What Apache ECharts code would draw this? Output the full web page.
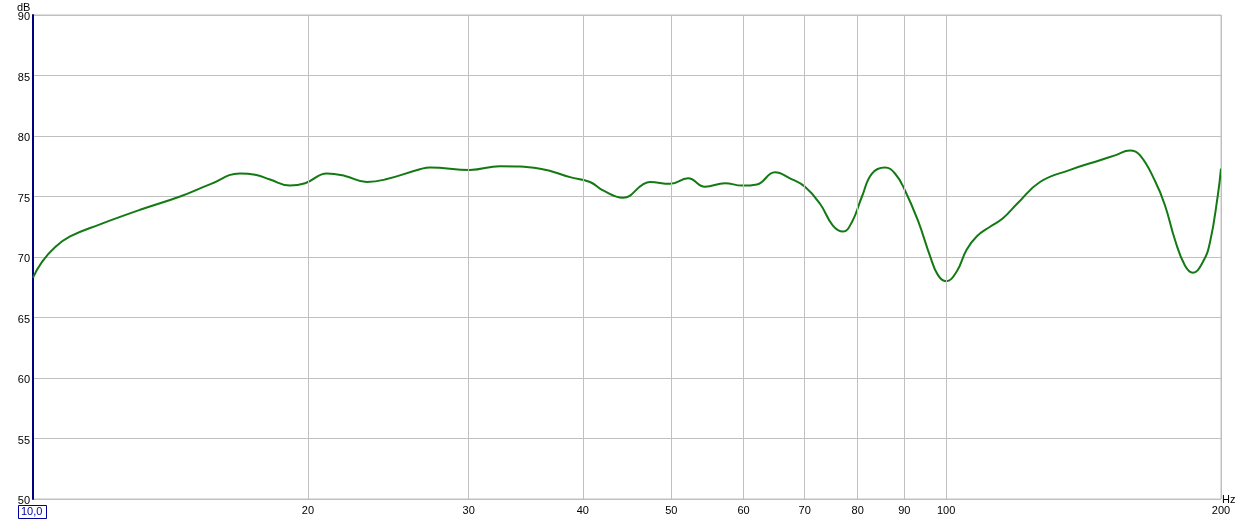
<!DOCTYPE html>
<html>
<head>
<meta charset="utf-8">
<script src="https://cdn.jsdelivr.net/npm/echarts@6/dist/echarts.min.js"></script>
<style>
html,body{margin:0;padding:0;background:#fff;}
#c{width:1246px;height:522px;}
</style>
</head>
<body>
<div id="c"></div>
<script>
const freqs = [10.0,10.23,10.57,10.98,11.84,13.10,14.49,15.62,16.85,17.51,18.18,19.12,19.86,20.99,21.96,23.21,24.29,26.53,27.21,30.10,32.46,35.92,38.74,40.74,42.10,44.27,46.56,47.39,49.84,52.16,54.44,57.26,59.76,62.07,64.95,67.45,70.05,72.76,75.16,77.10,78.87,80.88,82.94,85.70,87.90,90.15,93.15,96.01,97.97,100.0,102.7,105.3,108.0,111.7,115.4,119.6,126.7,136.7,147.4,153.1,159.0,163.1,169.3,173.6,178.1,182.6,186.3,191.1,194.5,198.4,200.0];
const levels = [68.3,69.6,70.8,71.7,72.7,73.9,75.0,76.0,76.9,76.8,76.4,75.9,76.1,76.9,76.7,76.2,76.4,77.25,77.4,77.2,77.5,77.3,76.6,76.2,75.5,74.9,76.0,76.2,76.05,76.5,75.8,76.1,75.9,76.0,77.0,76.5,75.8,74.4,72.6,72.1,72.9,75.0,76.9,77.4,76.9,75.5,73.0,70.1,68.5,68.0,68.8,70.6,71.7,72.5,73.2,74.4,76.2,77.2,78.0,78.4,78.8,78.4,76.3,74.3,71.4,69.3,68.7,69.6,71.2,75.1,77.3];
const xTicks = [20,30,40,50,60,70,80,90,100,200];
const yMin = 50, yMax = 90, yStep = 5;

const font = '"Liberation Sans", Arial, sans-serif';
const chart = echarts.init(document.getElementById('c'), null, {renderer:'canvas'});
chart.setOption({
  animation:false,
  backgroundColor:'#fff',
  grid:{left:33,right:25,top:15,bottom:23,show:true,borderColor:'#c0c0c0',borderWidth:1,backgroundColor:'transparent'},
  xAxis:{type:'log',logBase:10,min:10,max:200,
    axisLine:{show:false},axisTick:{show:false},axisLabel:{show:false},splitLine:{show:false},minorSplitLine:{show:false}},
  yAxis:{type:'value',min:yMin,max:yMax,interval:yStep,
    axisLine:{show:true,lineStyle:{color:'#00007f',width:2}},
    axisTick:{show:false},
    axisLabel:{color:'#000',fontSize:11,fontFamily:font,margin:3,verticalAlign:'top',lineHeight:4},
    splitLine:{show:true,lineStyle:{color:'#c0c0c0',width:1}}},
  series:[
    {type:'line',data:[],z:1,silent:true,
     markLine:{silent:true,symbol:['none','none'],animation:false,
       lineStyle:{color:'#c0c0c0',width:1,type:'solid'},
       label:{show:true,position:'start',distance:6,color:'#000',fontSize:11,fontFamily:font,formatter:p=>String(p.value)},
       emphasis:{disabled:true},
       data:xTicks.map(v=>({xAxis:v}))}},
    {type:'line',z:3,data:freqs.map((f,i)=>[f,levels[i]]),
     smooth:0.45,showSymbol:false,symbol:'none',
     lineStyle:{color:'#137a13',width:2}}
  ],
  graphic:[
    {type:'text',left:17,top:2,style:{text:'dB',fill:'#000',font:'11px '+font}},
    {type:'text',left:1222,top:494,style:{text:'Hz',fill:'#000',font:'11px '+font}},
    {type:'rect',shape:{x:18.5,y:505.5,width:28,height:13},style:{fill:'#fff',stroke:'#0000a0',lineWidth:1}},
    {type:'text',left:21,top:506,style:{text:'10,0',fill:'#0000a0',font:'11px '+font}}
  ]
});
</script>
</body>
</html>
